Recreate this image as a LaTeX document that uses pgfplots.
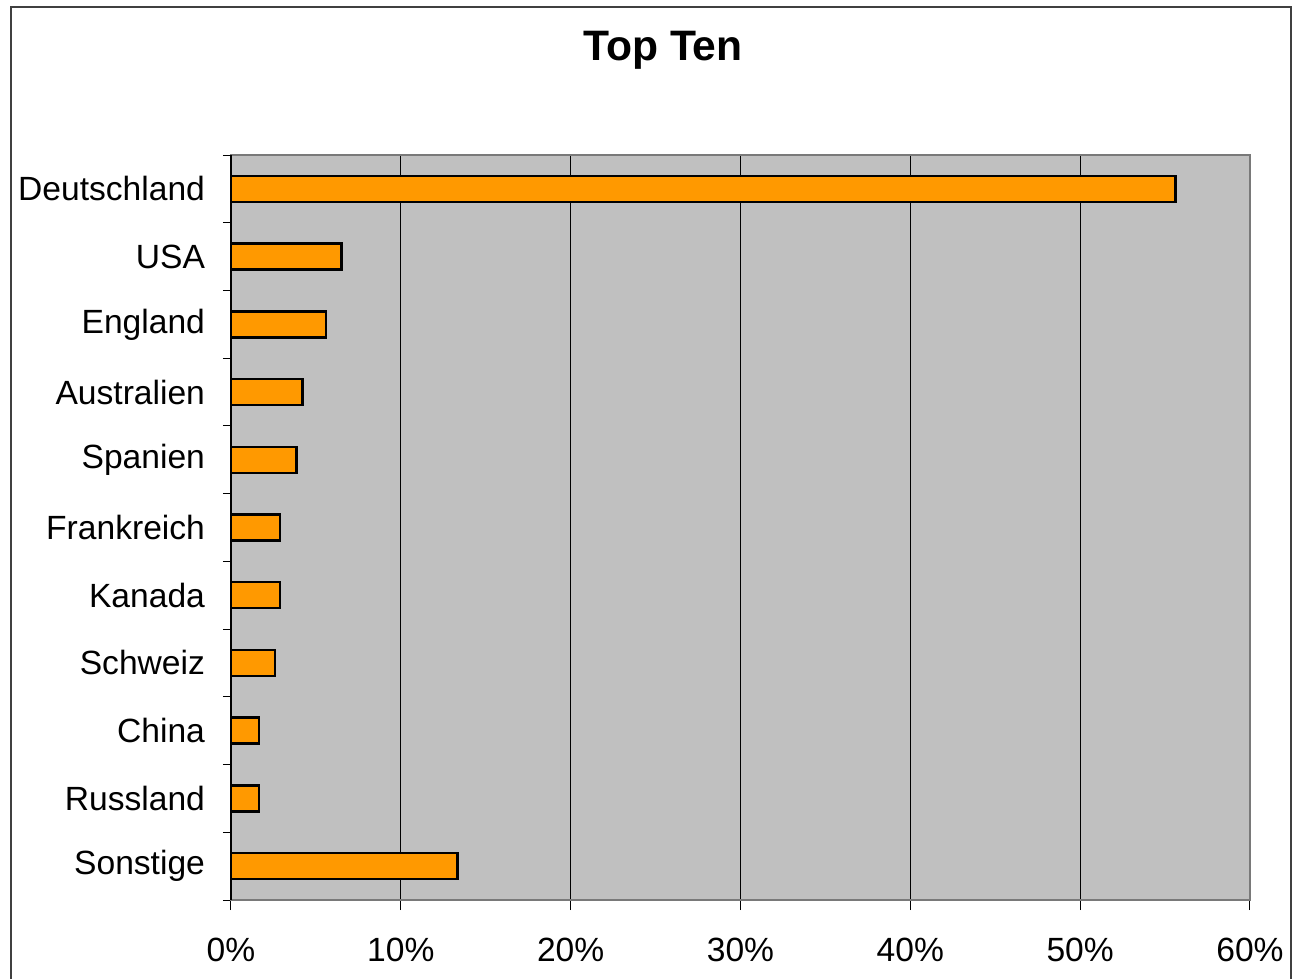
\documentclass[border=0pt]{standalone}
\usepackage{pgfplots}
\pgfplotsset{compat=1.18}
\usepackage{fontspec}
\setmainfont{Liberation Sans}
\definecolor{barorange}{HTML}{FF9900}
\definecolor{plotbg}{HTML}{C0C0C0}
\definecolor{frame}{HTML}{404040}
\begin{document}
\begin{tikzpicture}[x=1pt,y=1pt]
\path[use as bounding box] (0,0) rectangle (646,-489.5);
\draw[frame, line width=1pt] (5.5,-489.5) -- (5.5,-3.5) -- (645.5,-3.5) -- (645.5,-489.5);
\node[font=\fontsize{21.3}{24}\selectfont\bfseries] at (331.5,-25) {Top Ten};
\begin{axis}[
  at={(115.5pt,-450pt)}, anchor=south west,
  scale only axis, width=509.5pt, height=372.5pt,
  xbar, bar width=13pt,
  xmin=0, xmax=60, ymin=-0.5, ymax=10.5,
  y dir=reverse,
  axis background/.style={fill=plotbg},
  axis line style={draw=gray!95!black, line width=1pt},
  xtick={0,10,...,60},
  xticklabels={0\%,10\%,20\%,30\%,40\%,50\%,60\%},
  ytick={0,...,10},
  yticklabels={Deutschland,USA,England,Australien,Spanien,Frankreich,Kanada,Schweiz,China,Russland,Sonstige},
  minor ytick={-0.5,0.5,...,10.5},
  major y tick style={draw=none},
  minor y tick style={black, line width=0.5pt},
  major x tick style={black, line width=0.5pt},
  tick align=outside,
  xtick pos=bottom, ytick pos=left,
  major tick length=5pt, minor tick length=4pt,
  xmajorgrids, major grid style={black, line width=0.5pt},
  tick label style={font=\fontsize{16.8}{19}\selectfont},
  yticklabel style={xshift=-4.5pt},
  xticklabel style={yshift=-10.5pt},
  clip=false,
]
\addplot[fill=barorange, draw=black, line width=1.25pt] coordinates {
  (55.6,0) (6.5,1) (5.6,2) (4.2,3) (3.85,4) (2.9,5) (2.9,6) (2.6,7) (1.65,8) (1.65,9) (13.35,10)
};
\draw[black, line width=0.6pt] (axis cs:0,-0.5) -- (axis cs:0,10.5);
\end{axis}
\end{tikzpicture}
\end{document}
